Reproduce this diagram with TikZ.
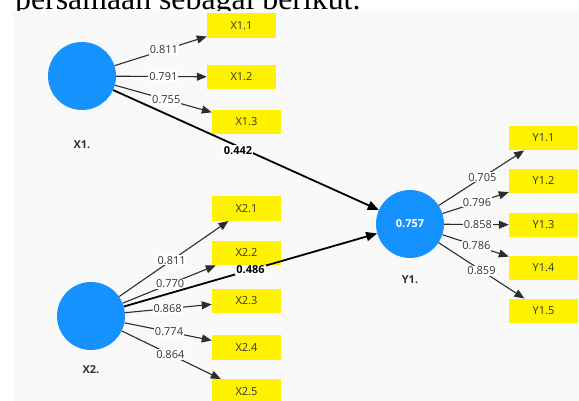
\documentclass[tikz,border=0pt]{standalone}
\usepackage{fontspec}
\setmainfont{Liberation Serif}
\newfontfamily\osans{Open Sans}
\usetikzlibrary{arrows.meta}
\definecolor{bgray}{RGB}{249,249,249}
\definecolor{lvblue}{RGB}{22,146,255}
\definecolor{txtgray}{RGB}{50,50,50}
\definecolor{lgray}{RGB}{45,45,45}
\begin{document}
\begin{tikzpicture}[x=1pt,y=-1pt,
  lv/.style={circle,fill=lvblue,minimum size=68pt,inner sep=0pt},
  ind/.style={fill=yellow,minimum width=69pt,minimum height=24.5pt,inner sep=0pt,font=\osans\fontsize{11}{12}\selectfont,text=txtgray},
  ld/.style={draw=lgray,line width=1.1pt,-{Triangle[length=10pt,width=8pt]}},
  pth/.style={draw=black,line width=1.8pt,-{Triangle[length=11pt,width=9pt]}},
  lbl/.style={fill=white,inner sep=1pt,font=\osans\fontsize{11}{12}\selectfont,text=txtgray},
  blbl/.style={fill=white,inner sep=1pt,font=\osans\bfseries\fontsize{11}{12}\selectfont},
  lvname/.style={font=\osans\bfseries\fontsize{11}{12}\selectfont,text=txtgray}]
\useasboundingbox (0,0) rectangle (579,401);
\clip (0,0) rectangle (579,401);
\node[anchor=base west,inner sep=0pt,font=\rmfamily\fontsize{31.8}{32}\selectfont] (cap) at (15,10) {persamaan sebagai berikut.};
\fill[bgray] (13,11.5) rectangle (579,401);

% latent variables
\node[lv] (X1) at (82,76) {};
\node[lvname] (X1n) at (82,145) {X1.};
\node[lv] (X2) at (91,316) {};
\node[lvname] (X2n) at (91,370) {X2.};
\node[lv,text=white,font=\osans\bfseries\fontsize{11}{12}\selectfont] (Y1) at (410,224) {0.757};
\node[lvname] (Y1n) at (410,280) {Y1.};

% indicators
\node[ind] (X11) at (241.5,25.5) {X1.1};
\node[ind] (X12) at (241.5,77) {X1.2};
\node[ind] (X13) at (246.5,122) {X1.3};
\node[ind] (X21) at (246.5,208.5) {X2.1};
\node[ind] (X22) at (246.5,253) {X2.2};
\node[ind] (X23) at (246.5,301) {X2.3};
\node[ind] (X24) at (246.5,347.5) {X2.4};
\node[ind] (X25) at (246.5,391.5) {X2.5};
\node[ind] (Y11) at (543.5,138) {Y1.1};
\node[ind] (Y12) at (543.5,181) {Y1.2};
\node[ind] (Y13) at (543.5,225) {Y1.3};
\node[ind] (Y14) at (543.5,268) {Y1.4};
\node[ind] (Y15) at (543.5,311) {Y1.5};

% outer loadings
\draw[ld] (X1) -- node[lbl,pos=0.535]{0.811} (X11);
\draw[ld] (X1) -- node[lbl,pos=0.52]{0.791} (X12);
\draw[ld] (X1) -- node[lbl,pos=0.53]{0.755} (X13);
\draw[ld] (X2) -- node[lbl,pos=0.48]{0.811} (X21);
\draw[ld] (X2) -- node[lbl,pos=0.51]{0.770} (X22);
\draw[ld] (X2) -- node[lbl,pos=0.49]{0.868} (X23);
\draw[ld] (X2) -- node[lbl,pos=0.51]{0.774} (X24);
\draw[ld] (X2) -- node[lbl,pos=0.49]{0.864} (X25);
\draw[ld] (Y1) -- node[lbl,pos=0.51]{0.705} (Y11);
\draw[ld] (Y1) -- node[lbl,pos=0.52]{0.796} (Y12);
\draw[ld] (Y1) -- node[lbl,pos=0.52]{0.858} (Y13);
\draw[ld] (Y1) -- node[lbl,pos=0.51]{0.786} (Y14);
\draw[ld] (Y1) -- node[lbl,pos=0.50]{0.859} (Y15);

% structural paths
\draw[pth] (X1) -- node[blbl,pos=0.47,yshift=-4pt]{0.442} (Y1);
\draw[pth] (X2) -- node[blbl,pos=0.50]{0.486} (Y1);
\end{tikzpicture}
\end{document}
